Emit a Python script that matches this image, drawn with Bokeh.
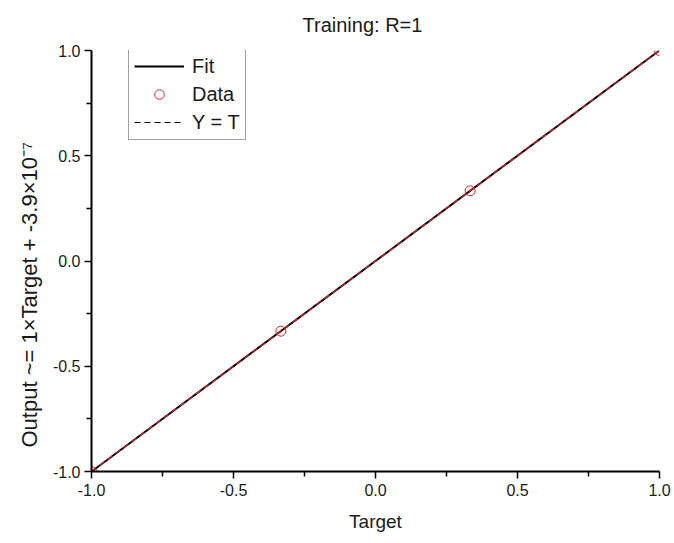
from bokeh.plotting import figure
from bokeh.models import Range1d, FixedTicker, NumeralTickFormatter, Legend, LegendItem, Title
from bokeh.embed import file_html
from bokeh.resources import INLINE

# data
targets = [-1.0, -1/3, 1/3, 1.0]
outputs = [-1.0, -1/3, 1/3, 1.0]
fit_x = [-1.0, 1.0]
fit_y = [-1.0, 1.0]
yt_x = [-1.0, 1.0]
yt_y = [-1.0, 1.0]
ticks = [-1.0, -0.5, 0.0, 0.5, 1.0]
minor = [-0.75, -0.25, 0.25, 0.75]
title_text = "Training: R=1"
x_label = "Target"
y_label = "Output ~= 1\u00d7Target + -3.9\u00d710\u207b\u2077"

FONT = "Liberation Sans"
TXT = "#1a1a1a"

p = figure(width=674, height=543, output_backend="svg", toolbar_location=None,
           x_range=Range1d(-1, 1), y_range=Range1d(-1, 1))
p.min_border_left = 91
p.min_border_right = 15
p.min_border_top = 50
p.min_border_bottom = 72
p.outline_line_color = None
p.xgrid.visible = False
p.ygrid.visible = False
p.background_fill_color = "white"
p.border_fill_color = "white"

for ax in (p.xaxis[0], p.yaxis[0]):
    ax.ticker = FixedTicker(ticks=ticks, minor_ticks=minor)
    ax.formatter = NumeralTickFormatter(format="0.0")
    ax.axis_line_width = 2
    ax.axis_line_color = "black"
    ax.major_tick_line_width = 1.5
    ax.minor_tick_line_width = 1.5
    ax.major_tick_out = 7
    ax.major_tick_in = 0
    ax.minor_tick_out = 5
    ax.minor_tick_in = 0
    ax.major_label_text_font = FONT
    ax.major_label_text_font_size = "16px"
    ax.major_label_text_color = TXT
    ax.axis_label_text_font = FONT
    ax.axis_label_text_font_size = "19px"
    ax.axis_label_text_font_style = "normal"
    ax.axis_label_text_color = TXT

p.xaxis.axis_label = x_label
p.xaxis.major_label_standoff = 5
p.yaxis.major_label_standoff = 4
p.xaxis.axis_label_standoff = 12

top_title = Title(text=title_text, align="left", offset=211, standoff=26,
                  text_font=FONT, text_font_size="20px", text_font_style="normal",
                  text_color=TXT, vertical_align="top")
p.add_layout(top_title, "above")

left_title = Title(text=y_label, align="left", offset=24, standoff=15,
                   text_font=FONT, text_font_size="22px", text_font_style="normal",
                   text_color=TXT)
p.add_layout(left_title, "left")

fit = p.line(fit_x, fit_y, line_color="black", line_width=2)
yt = p.line(yt_x, yt_y, line_color="#d62728", line_width=1.2, line_dash="6 4")
data = p.scatter(targets, outputs, marker="circle", size=10, fill_color=None,
                 line_color="#d62728", line_width=1)
# legend-only proxy (drawn outside the visible range)
yt_leg = p.line([5, 6], [5, 6], line_color="black", line_width=1, line_dash="6 4")

legend = Legend(items=[
    LegendItem(label="Fit", renderers=[fit]),
    LegendItem(label="Data", renderers=[data]),
    LegendItem(label="Y = T", renderers=[yt_leg]),
], location=(37, 331))
legend.border_line_color = "#444444"
legend.border_line_width = 1
legend.label_text_font = FONT
legend.label_text_font_size = "20px"
legend.label_text_color = TXT
legend.glyph_width = 50
legend.glyph_height = 24
legend.label_height = 24
legend.spacing = 4
legend.padding = 5
legend.margin = 0
legend.label_standoff = 8
legend.background_fill_alpha = 1
p.add_layout(legend, "center")

open("out.html", "w").write(file_html(p, INLINE))
